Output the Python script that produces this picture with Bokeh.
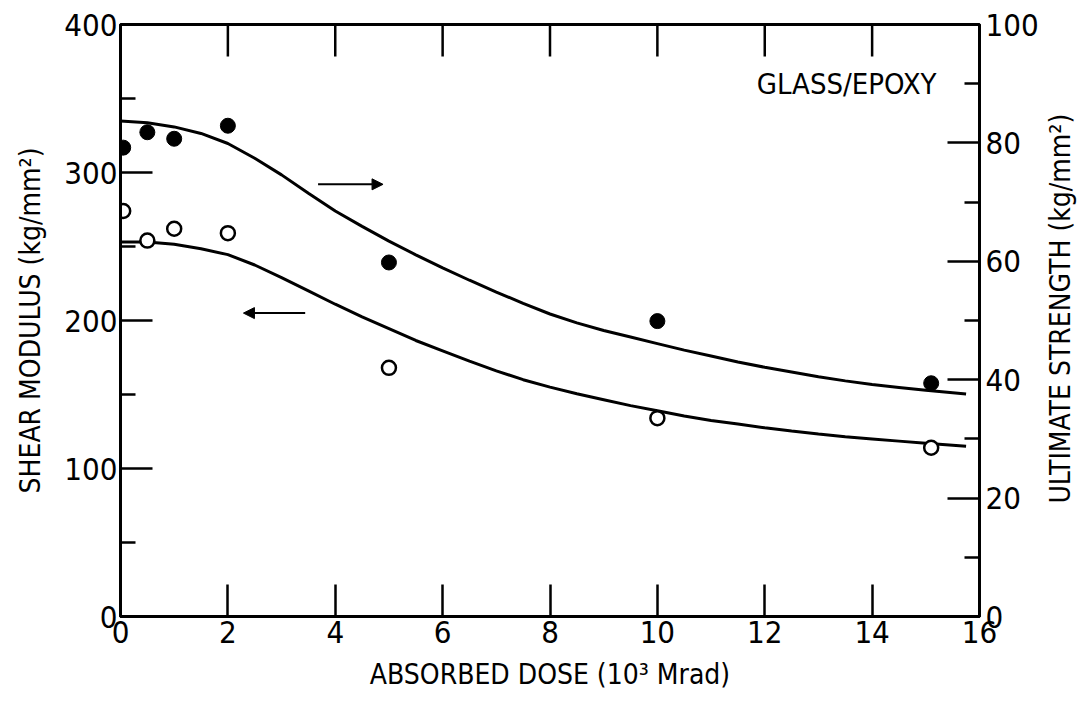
import math
from bokeh.plotting import figure
from bokeh.layouts import row
from bokeh.models import LinearAxis, Range1d, FixedTicker, Arrow, NormalHead, Label
from bokeh.embed import file_html
from bokeh.resources import INLINE

# ---- data ----
dose_points = [0.05, 0.5, 1.0, 2.0, 5.0, 10.0, 15.1]          # 10^3 Mrad
shear_modulus = [274, 254, 262, 259, 168, 134, 114]             # kg/mm2 (open circles, left axis)
ultimate_strength = [79.2, 81.8, 80.7, 82.9, 59.8, 49.9, 39.4]  # kg/mm2 (filled circles, right axis)

curve_dose = [0, 0.5, 1, 1.5, 2, 2.5, 3, 3.5, 4, 4.5, 5, 5.5, 6, 6.5, 7, 7.5, 8, 8.5,
              9, 9.5, 10, 10.5, 11, 11.5, 12, 12.5, 13, 13.5, 14, 14.5, 15, 15.75]
modulus_curve = [253, 253, 251.5, 248.5, 244.5, 237.5, 229, 220, 211, 202.5, 194.5, 186.5, 179.5, 172.5,
                 166, 160, 155, 150.5, 146.5, 142.5, 139, 135.5, 132.5, 130, 127.5, 125.3, 123.3,
                 121.5, 120, 118.5, 117, 115]
strength_curve = [83.7, 83.4, 82.7, 81.6, 79.9, 77.4, 74.6, 71.5, 68.5, 65.9, 63.4, 61.1, 58.9, 56.8,
                  54.8, 52.9, 51.1, 49.6, 48.3, 47.2, 46.1, 45.0, 44.0, 43.0, 42.1, 41.3, 40.5,
                  39.8, 39.2, 38.7, 38.2, 37.6]

x_ticks = [0, 2, 4, 6, 8, 10, 12, 14, 16]
left_ticks = [0, 100, 200, 300, 400]
left_minor = [50, 150, 250, 350]
right_ticks = [0, 20, 40, 60, 80, 100]
right_minor = [10, 30, 50, 70, 90]

FONT = "Liberation Sans Narrow, DejaVu Sans Condensed, Liberation Sans, sans-serif"
X_MAX, Y_MAX, R_MAX = 16, 400, 100
TOP, BOTTOM = 24, 89

p = figure(width=1041, height=705, output_backend="svg", toolbar_location=None,
           x_range=Range1d(0, X_MAX), y_range=Range1d(0, Y_MAX),
           min_border_left=120, min_border_right=61, min_border_top=TOP, min_border_bottom=BOTTOM)
p.extra_y_ranges = {"right": Range1d(0, R_MAX)}
p.outline_line_color = "black"
p.outline_line_width = 3
p.xgrid.visible = False
p.ygrid.visible = False
p.background_fill_color = "white"
p.border_fill_color = "white"


def style(ax, major_len=32, minor_len=15):
    ax.axis_line_width = 3
    ax.axis_line_color = "black"
    ax.major_tick_in = major_len
    ax.major_tick_out = 0
    ax.minor_tick_in = minor_len
    ax.minor_tick_out = 0
    ax.major_tick_line_width = 2.5
    ax.minor_tick_line_width = 2.5
    ax.major_tick_line_color = "black"
    ax.minor_tick_line_color = "black"
    ax.major_label_text_font = FONT
    ax.major_label_text_font_size = "31px"
    ax.major_label_text_color = "black"
    ax.axis_label_text_font = FONT
    ax.axis_label_text_font_style = "normal"
    ax.axis_label_text_font_size = "28px"
    ax.axis_label_text_color = "black"


# bottom axis
xa = p.xaxis[0]
xa.ticker = FixedTicker(ticks=x_ticks)
xa.axis_label = "ABSORBED DOSE (10³ Mrad)"
style(xa)
xa.major_label_standoff = 4
xa.axis_label_standoff = 12

# left axis
ya = p.yaxis[0]
ya.ticker = FixedTicker(ticks=left_ticks, minor_ticks=left_minor)
ya.axis_label = "SHEAR MODULUS (kg/mm²)"
style(ya)
ya.major_label_standoff = 3
ya.axis_label_standoff = 14

# right axis
ra = LinearAxis(y_range_name="right", ticker=FixedTicker(ticks=right_ticks, minor_ticks=right_minor))
style(ra)
ra.major_label_standoff = 6
p.add_layout(ra, "right")

# top border ticks (inward), at the same positions as the bottom ticks
top_len = 32 / 592 * Y_MAX
p.segment(x0=x_ticks[1:-1], y0=[Y_MAX] * (len(x_ticks) - 2),
          x1=x_ticks[1:-1], y1=[Y_MAX - top_len] * (len(x_ticks) - 2),
          line_color="black", line_width=2.5)

# curves
p.line(curve_dose, modulus_curve, line_color="black", line_width=3)
p.line(curve_dose, strength_curve, line_color="black", line_width=3, y_range_name="right")

# points
p.scatter(dose_points, shear_modulus, size=14, marker="circle", fill_color="white",
          line_color="black", line_width=2.5)
p.scatter(dose_points, ultimate_strength, size=15, marker="circle", fill_color="black",
          line_color="black", y_range_name="right")

# arrows
p.add_layout(Arrow(end=NormalHead(size=11, fill_color="black", line_color="black"),
                   x_start=3.68, y_start=292, x_end=4.89, y_end=292,
                   line_width=2, line_color="black"))
p.add_layout(Arrow(end=NormalHead(size=11, fill_color="black", line_color="black"),
                   x_start=3.44, y_start=205, x_end=2.29, y_end=205,
                   line_width=2, line_color="black"))

p.add_layout(Label(x=15.2, y=360, text="GLASS/EPOXY", text_align="right", text_baseline="middle",
                   text_font=FONT, text_font_size="29px", text_color="black"))

# narrow side panel holding the right-axis title, reading bottom-to-top
t = figure(width=38, height=705, output_backend="svg", toolbar_location=None,
           x_range=Range1d(0, 1), y_range=Range1d(0, R_MAX),
           x_axis_location=None, y_axis_location=None,
           min_border_left=0, min_border_right=0, min_border_top=TOP, min_border_bottom=BOTTOM)
t.outline_line_color = None
t.xgrid.visible = False
t.ygrid.visible = False
t.border_fill_color = "white"
t.add_layout(Label(x=0.5, y=52, text="ULTIMATE STRENGTH (kg/mm²)", angle=math.pi / 2,
                   text_align="center", text_baseline="middle", text_font=FONT,
                   text_font_size="28px", text_color="black"))

layout = row(p, t, spacing=0)
open("out.html", "w").write(file_html(layout, INLINE))
